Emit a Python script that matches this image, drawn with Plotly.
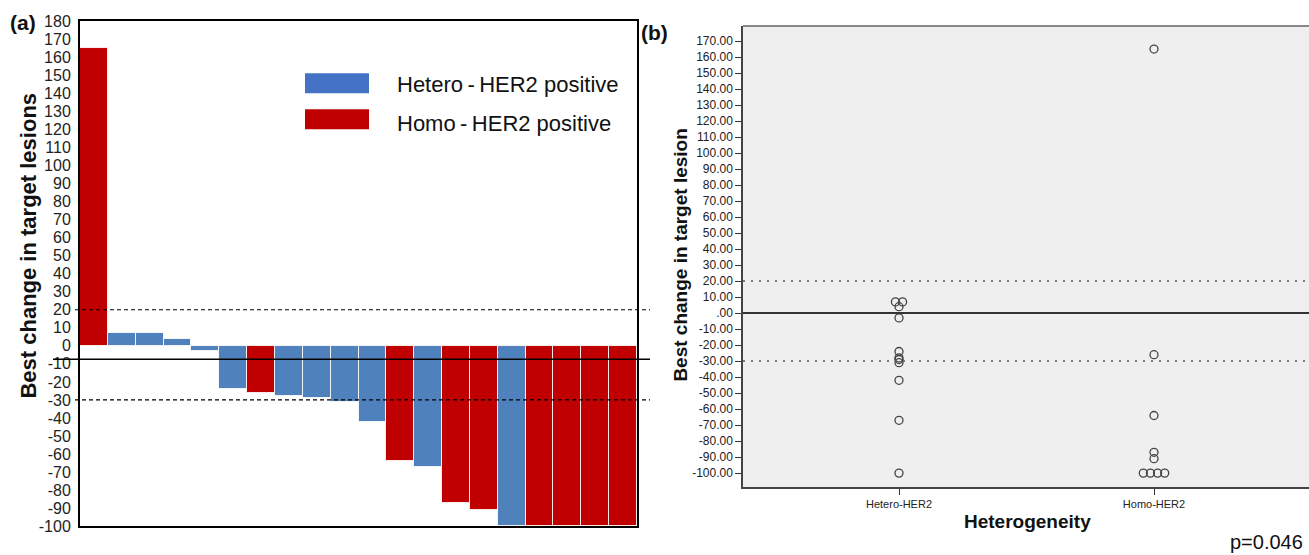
import plotly.graph_objects as go

# ---------------- data ----------------
groups = ["Homo", "Hetero", "Hetero", "Hetero", "Hetero", "Hetero", "Homo", "Hetero", "Hetero", "Hetero",
          "Hetero", "Homo", "Hetero", "Homo", "Homo", "Hetero", "Homo", "Homo", "Homo", "Homo"]
best_change = [165, 7, 7, 4, -3, -24, -26, -28, -29, -31,
               -42, -64, -67, -87, -91, -100, -100, -100, -100, -100]
left_ticks = list(range(-100, 181, 10))
right_ticks = list(range(-100, 171, 10))
categories = ["Hetero-HER2", "Homo-HER2"]
cat_key = {"Hetero": 0, "Homo": 1}
legend_labels = ["Hetero\u2009-\u2009HER2 positive", "Homo\u2009-\u2009HER2 positive"]
ref_lines_a = [20, -30]
solid_line_a = -7.5
ref_lines_b = [20, -30]
p_text = "p=0.046"

# ---------------- style ----------------
W, H = 1309, 555
BLUE = "#4F81BD"
RED = "#C00000"
colors = {"Hetero": BLUE, "Homo": RED}
FONT = "Liberation Sans, Arial, sans-serif"
VS, VO = 0.967, 9.0   # compensation for vertical rendering of the photograph

def px(x):
    return x / W

def py(y):
    return 1 - ((y - VO) / VS) / H

fig = go.Figure()

# ---- panel (a): waterfall bars ----
xs = list(range(1, len(best_change) + 1))
fig.add_trace(go.Bar(
    x=xs, y=best_change,
    marker=dict(color=[colors[g] for g in groups], line=dict(color="rgba(255,255,255,0.85)", width=1)),
    xaxis="x", yaxis="y", showlegend=False, width=1.0,
))

# ---- panel (b): dot plot ----
step = 0.028
sx, sy = [], []
for g in ["Hetero", "Homo"]:
    vals = [v for v, gg in zip(best_change, groups) if gg == g]
    counts = {}
    for v in vals:
        counts[v] = counts.get(v, 0) + 1
    seen = {}
    for v in vals:
        n = counts[v]
        k = seen.get(v, 0)
        seen[v] = k + 1
        off = (k - (n - 1) / 2) * step
        sx.append(cat_key[g] + off)
        sy.append(v)
fig.add_trace(go.Scatter(
    x=sx, y=sy, mode="markers",
    marker=dict(symbol="circle-open", size=8, color="#444444", line=dict(width=1.3)),
    xaxis="x2", yaxis="y2", showlegend=False, cliponaxis=False,
))

# axes geometry (reference pixels)
a_l, a_r, a_t, a_b = 80, 637, 22, 526
b_l, b_t, b_b = 743, 27, 487
b_cat0, b_cat1 = 899, 1154
ppu = b_cat1 - b_cat0
b_x0 = -(b_cat0 - b_l) / ppu
b_x1 = b_x0 + (W - b_l) / ppu

fig.update_layout(
    width=W, height=H,
    margin=dict(l=0, r=0, t=0, b=0),
    paper_bgcolor="white", plot_bgcolor="white",
    font=dict(family=FONT, color="#222222"),
    bargap=0.0,
    xaxis=dict(domain=[px(a_l), px(a_r)], range=[0.5, len(xs) + 0.5], showticklabels=False,
               showgrid=False, zeroline=False, showline=True, linecolor="black", linewidth=2,
               mirror=True, ticks=""),
    yaxis=dict(domain=[py(a_b), py(a_t)], range=[-100, 180], tickvals=left_ticks,
               ticktext=[str(v) for v in left_ticks], tickfont=dict(size=16, family=FONT, color="#222"),
               showgrid=False, zeroline=False, showline=True, linecolor="black", linewidth=2,
               mirror=True, ticks="", ticklabelstandoff=4),
    xaxis2=dict(domain=[px(b_l), 1.0], range=[b_x0, b_x1], tickvals=[0, 1], ticktext=categories,
                tickfont=dict(size=11, family=FONT, color="#222"), ticks="outside", ticklen=6,
                tickcolor="#333", showgrid=False, zeroline=False, showline=True,
                linecolor="#444", linewidth=1.5, anchor="y2"),
    yaxis2=dict(domain=[py(b_b), py(b_t)], range=[-108.8, 179.4], tickvals=right_ticks,
                ticktext=[(f"{v:.2f}" if v != 0 else ".00") for v in right_ticks],
                tickfont=dict(size=12, family=FONT, color="#222"), ticks="outside", ticklen=6,
                tickcolor="#333", showgrid=False, zeroline=False, showline=True,
                linecolor="#444", linewidth=1.5, anchor="x2"),
)

shapes = []
shapes.append(dict(type="rect", xref="x2 domain", yref="y2 domain", x0=0, x1=1, y0=0, y1=1,
                   fillcolor="#EFEFEF", line=dict(width=0), layer="below"))
shapes.append(dict(type="line", xref="x2 domain", yref="y2 domain", x0=0, x1=1, y0=1, y1=1,
                   line=dict(color="#888888", width=2)))
for v in ref_lines_a:
    shapes.append(dict(type="line", xref="paper", yref="y", x0=px(75), x1=px(650), y0=v, y1=v,
                       line=dict(color="black", width=1.2, dash="4px,3px")))
shapes.append(dict(type="line", xref="paper", yref="y", x0=px(53), x1=px(650),
                   y0=solid_line_a, y1=solid_line_a, line=dict(color="black", width=1.5)))
for v in ref_lines_b:
    shapes.append(dict(type="line", xref="x2 domain", yref="y2", x0=0, x1=1, y0=v, y1=v,
                       line=dict(color="#555555", width=1.5, dash="2px,6px")))
shapes.append(dict(type="line", xref="x2 domain", yref="y2", x0=0, x1=1, y0=0, y1=0,
                   line=dict(color="#333333", width=2)))
shapes.append(dict(type="rect", xref="paper", yref="paper", x0=px(305), x1=px(369), y0=py(94), y1=py(74),
                   fillcolor="#4472C4", line=dict(width=0)))
shapes.append(dict(type="rect", xref="paper", yref="paper", x0=px(305), x1=px(369), y0=py(130), y1=py(110),
                   fillcolor=RED, line=dict(width=0)))
fig.update_layout(shapes=shapes)

def note(text, x, y, size, xanchor="left", angle=0):
    return dict(text=text, x=px(x), y=py(y), xref="paper", yref="paper", xanchor=xanchor,
                yanchor="middle", showarrow=False, textangle=angle,
                font=dict(size=size, family=FONT, color="#111"))

ann = [
    note(legend_labels[0], 395, 85, 22),
    note(legend_labels[1], 395, 124, 22),
    note("<b>(a)</b>", 8, 23, 21),
    note("<b>(b)</b>", 639, 33, 21),
    note("<b>Best change in target lesions</b>", 29, 246, 22, "center", -90),
    note("<b>Best change in target lesion</b>", 681, 256, 19, "center", -90),
    note("<b>Heterogeneity</b>", 1027, 521, 19, "center"),
    note(p_text, 1305, 542, 20, "right"),
]
fig.update_layout(annotations=ann)

fig.write_html("out.html", config={"displayModeBar": False},
               post_script="document.body.style.margin='0';document.body.style.overflow='hidden';")
